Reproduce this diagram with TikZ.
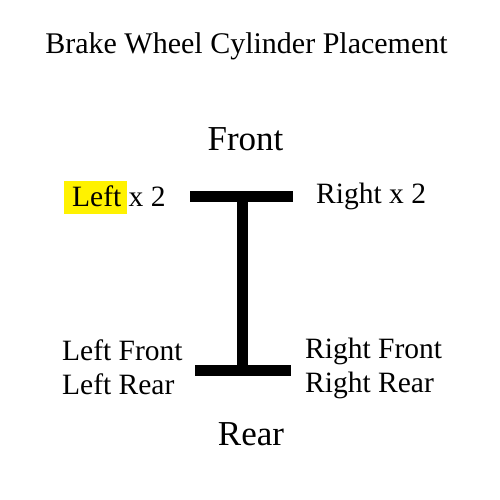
\documentclass[tikz,border=0pt]{standalone}
\usepackage{fontspec}
\setmainfont{Liberation Serif}
\begin{document}
\begin{tikzpicture}[x=1pt,y=-1pt,
  body/.style={inner sep=0pt,anchor=base west,font=\fontsize{29.5}{34}\selectfont},
  big/.style={inner sep=0pt,anchor=base,font=\fontsize{35}{40}\selectfont},
  bar/.style={line width=10.5pt,black}]
\useasboundingbox[fill=white] (0,0) rectangle (500,500);
\node[inner sep=0pt,anchor=base,font=\fontsize{30}{34}\selectfont] (title) at (246.5,53.3) {Brake Wheel Cylinder Placement};
\node[big] (front) at (245.5,150) {Front};
\node[big] (rear) at (251,445) {Rear};
\fill[yellow] (64,181) rectangle (127,214);
\node[body] (lx2) at (72,206) {Left x 2};
\node[body] (rx2) at (316,203) {Right x 2};
\node[body] (lf) at (62,360) {Left Front};
\node[body] (lr) at (62,394) {Left Rear};
\node[body] (rf) at (305,358) {Right Front};
\node[body] (rr) at (305,392) {Right Rear};
\coordinate (tl) at (190,196.7);
\coordinate (tr) at (293,196.7);
\coordinate (tm) at (242.8,196.7);
\coordinate (bm) at (242.8,370.5);
\coordinate (bl) at (195,370.5);
\coordinate (br) at (290.7,370.5);
\draw[bar] (tl) -- (tr);
\draw[line width=11pt] (tm) -- (bm);
\draw[bar] (bl) -- (br);
\end{tikzpicture}
\end{document}
